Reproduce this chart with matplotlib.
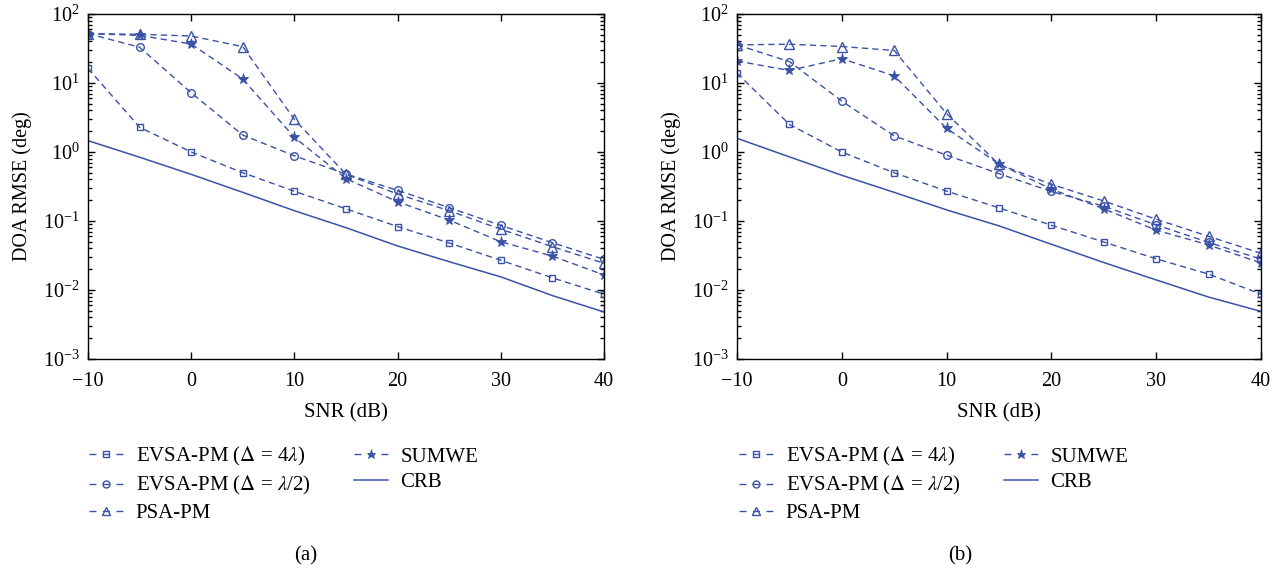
import matplotlib
matplotlib.use("Agg")
import matplotlib.pyplot as plt
from matplotlib.lines import Line2D
from matplotlib.ticker import LogLocator, NullFormatter, FixedLocator

plt.rcParams['font.family'] = ['Liberation Serif', 'DejaVu Serif']
plt.rcParams['mathtext.fontset'] = 'stix'

snr = [-10, -5, 0, 5, 10, 15, 20, 25, 30, 35, 40]

# panel (a)
a_evsa4 = [16.3, 2.28, 1.0, 0.50, 0.27, 0.15, 0.083, 0.048, 0.027, 0.015, 0.0087]
a_evsa2 = [52, 33, 7.2, 1.76, 0.88, 0.48, 0.278, 0.156, 0.0865, 0.0485, 0.0278]
a_psa = [52, 50.7, 48, 33.6, 2.97, 0.475, 0.246, 0.141, 0.076, 0.0424, 0.0244]
a_sumwe = [52, 49, 36.7, 11.4, 1.63, 0.41, 0.19, 0.103, 0.050, 0.031, 0.0165]
a_crb = [1.46, 0.84, 0.474, 0.26, 0.141, 0.080, 0.0435, 0.0257, 0.0155, 0.0083, 0.0048]

# panel (b)
b_evsa4 = [13.9, 2.51, 1.0, 0.50, 0.271, 0.155, 0.0867, 0.0496, 0.0283, 0.017, 0.0087]
b_evsa2 = [35.7, 20.4, 5.47, 1.71, 0.90, 0.485, 0.268, 0.164, 0.0877, 0.049, 0.028]
b_psa = [35.7, 36.5, 33.8, 29.6, 3.6, 0.66, 0.34, 0.195, 0.106, 0.060, 0.034]
b_sumwe = [20.8, 15.2, 22.5, 12.7, 2.2, 0.67, 0.29, 0.15, 0.0736, 0.045, 0.0246]
b_crb = [1.58, 0.85, 0.46, 0.26, 0.145, 0.085, 0.046, 0.025, 0.014, 0.0079, 0.0049]

labels = [r'EVSA-PM ($\Delta$ = 4$\lambda$)', r'EVSA-PM ($\Delta$ = $\lambda$/2)',
          'PSA-PM', 'SUMWE', 'CRB']
xticks = [-10, 0, 10, 20, 30, 40]
xticklabels = ['\u221210', '0', '10', '20', '30', '40']

color = '#3a52a6'
dash = (0, (4.5, 3))
leg_dash = (0, (5.0, 4.7))

styles = [dict(marker='s', ms=5, mfc='none', mew=1),
          dict(marker='o', ms=5.5, mfc='none', mew=1),
          dict(marker='^', ms=6.5, mfc='none', mew=1),
          dict(marker='*', ms=8, mfc=color, mew=0.6)]
leg_ms = [4.5, 5, 5.5, 6.5]

fig = plt.figure(figsize=(12.83, 5.70), dpi=100)
W, H = 1283, 570
axa = fig.add_axes([88 / W, (H - 359) / H, 516 / W, 345 / H])
axb = fig.add_axes([737 / W, (H - 359) / H, 524 / W, 345 / H])


def draw(ax, series, crb, lab_x):
    for ys, st, lab in zip(series, styles, labels):
        ax.plot(snr, ys, linestyle=dash, color=color, lw=1, mec=color,
                label=lab, **st)
    ax.plot(snr, crb, linestyle='-', color=color, lw=1.1, label=labels[4])
    ax.set_yscale('log')
    ax.set_xlim(-10, 40)
    ax.set_ylim(1e-3, 1e2)
    ax.xaxis.set_major_locator(FixedLocator(xticks))
    ax.set_xticklabels(xticklabels)
    ax.yaxis.set_major_locator(LogLocator(base=10, numticks=10))
    ax.yaxis.set_minor_locator(LogLocator(base=10, subs=range(2, 10), numticks=20))
    ax.yaxis.set_minor_formatter(NullFormatter())
    ax.tick_params(which='both', direction='in', top=True, right=True,
                   labelsize=14.5, width=1)
    ax.tick_params(which='major', length=5)
    ax.tick_params(axis='x', which='major', pad=9)
    ax.tick_params(axis='y', which='major', pad=6)
    ax.tick_params(which='minor', length=3)
    for s in ax.spines.values():
        s.set_linewidth(1)
    ax.set_xlabel('SNR (dB)', fontsize=15, labelpad=9)
    ax.set_ylabel('DOA RMSE (deg)', fontsize=14.5)
    ax.yaxis.set_label_coords(lab_x, 0.5)


draw(axa, [a_evsa4, a_evsa2, a_psa, a_sumwe], a_crb, -56 / 516)
draw(axb, [b_evsa4, b_evsa2, b_psa, b_sumwe], b_crb, -56 / 524)

for x0, cap, cx in [(89, '(a)', 306), (739, '(b)', 960)]:
    handles = [Line2D([], [], color=color, lw=1, linestyle=leg_dash, mec=color,
                      **dict(st, ms=m)) for st, m in zip(styles, leg_ms)]
    handles.append(Line2D([], [], color=color, lw=1.1, linestyle='-'))
    fig.legend(handles, labels, loc='upper left',
               bbox_to_anchor=(x0 / W, (H - 445) / H),
               ncol=2, frameon=False, fontsize=15, handlelength=1.63,
               handletextpad=0.62, columnspacing=2.06, labelspacing=0.3,
               borderpad=0, borderaxespad=0)
    fig.text(cx / W, (H - 556) / H, cap, ha='center', va='center', fontsize=15)

fig.savefig('out.png', dpi=100)
